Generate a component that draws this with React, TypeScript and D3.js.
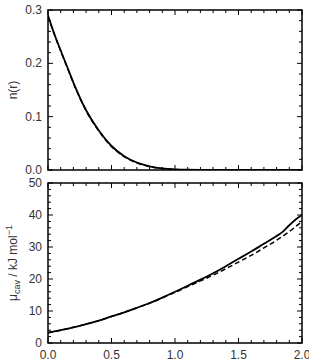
import React from "react";
import * as d3 from "d3";

const rTop = [0, 0.05, 0.1, 0.15, 0.2, 0.3, 0.4, 0.5, 0.6, 0.7, 0.8, 0.9, 1.0, 1.1, 1.2, 1.4, 1.6, 1.8, 2.0];
const nSolid = [0.29, 0.255, 0.224, 0.194, 0.164, 0.112, 0.074, 0.045, 0.026, 0.014, 0.007, 0.003, 0.0012, 0.0005, 0.0002, 0, 0, 0, 0];
const nDashed = [0.288, 0.254, 0.223, 0.193, 0.163, 0.111, 0.073, 0.044, 0.025, 0.013, 0.0065, 0.0028, 0.001, 0.0004, 0.0001, 0, 0, 0, 0];

const rBot = [0, 0.1, 0.2, 0.3, 0.4, 0.5, 0.6, 0.7, 0.8, 0.9, 1.0, 1.1, 1.2, 1.3, 1.4, 1.5, 1.6, 1.7, 1.8, 1.85, 1.9, 1.95, 2.0];
const muSolid = [3.2, 4.0, 4.9, 5.9, 7.0, 8.3, 9.6, 11.0, 12.5, 14.2, 16.0, 17.9, 19.8, 21.8, 24.0, 26.3, 28.6, 31.0, 33.4, 34.8, 36.8, 38.6, 40.0];
const muDashed = [3.2, 4.0, 4.9, 5.9, 7.0, 8.3, 9.6, 11.0, 12.4, 14.1, 15.8, 17.6, 19.4, 21.2, 23.2, 25.3, 27.4, 29.7, 32.1, 33.4, 34.8, 36.4, 38.0];

const xTicks = [0, 0.5, 1.0, 1.5, 2.0];
const nTicks = [0, 0.1, 0.2, 0.3];
const muTicks = [0, 10, 20, 30, 40, 50];

const W = 309, H = 364;
const L = 48, R = 302;
const topY0 = 10, topY1 = 170;
const botY0 = 183, botY1 = 343;
const font = "Liberation Sans, Arial, Helvetica, sans-serif";
const textColor = "#333";

function Panel({ y, yTicks, minorStep, fmt, series, xs, showX }: any) {
  const x = d3.scaleLinear().domain([0, 2]).range([L, R]);
  const [y0, y1] = y.range();
  const yd = y.domain();
  const minorX = d3.range(0, 2.0001, 0.1);
  const minorY = d3.range(yd[0], yd[1] + minorStep / 2, minorStep);
  const isMajorX = (v: number) => Math.abs(v * 2 - Math.round(v * 2)) < 1e-6;
  const isMajorY = (v: number) => yTicks.some((t: number) => Math.abs(t - v) < 1e-6);
  const line = d3.line<number>().x((_, i) => x(xs[i])).y((d) => y(d)).curve(d3.curveMonotoneX);
  return (
    <g>
      <defs>
        <clipPath id={"clip" + y1}>
          <rect x={L} y={y1} width={R - L} height={y0 - y1} />
        </clipPath>
      </defs>
      <g clipPath={`url(#clip${y1})`}>
        <path d={line(series[0]) || ""} fill="none" stroke="#000" strokeWidth={1.8} />
        <path d={line(series[1]) || ""} fill="none" stroke="#000" strokeWidth={1.5} strokeDasharray="5,3" />
      </g>
      {minorX.map((v, i) => {
        const len = isMajorX(v) ? 5 : 3;
        return (
          <g key={"x" + i}>
            <line x1={x(v)} x2={x(v)} y1={y0} y2={y0 - len} stroke="#000" strokeWidth={1} />
            <line x1={x(v)} x2={x(v)} y1={y1} y2={y1 + len} stroke="#000" strokeWidth={1} />
          </g>
        );
      })}
      {minorY.map((v, i) => {
        const len = isMajorY(v) ? 5 : 3;
        return (
          <g key={"y" + i}>
            <line x1={L} x2={L + len} y1={y(v)} y2={y(v)} stroke="#000" strokeWidth={1} />
            <line x1={R} x2={R - len} y1={y(v)} y2={y(v)} stroke="#000" strokeWidth={1} />
          </g>
        );
      })}
      <rect x={L} y={y1} width={R - L} height={y0 - y1} fill="none" stroke="#000" strokeWidth={1.5} />
      {yTicks.map((t: number, i: number) => (
        <text key={"yl" + i} x={L - 6} y={y(t)} dy="0.34em" textAnchor="end" fontSize={12} fontFamily={font} fill={textColor}>
          {fmt(t)}
        </text>
      ))}
      {showX &&
        xTicks.map((t, i) => (
          <text key={"xl" + i} x={x(t)} y={y0 + 16} textAnchor="middle" fontSize={12} fontFamily={font} fill={textColor}>
            {t.toFixed(1)}
          </text>
        ))}
    </g>
  );
}

export default function App() {
  const yTop = d3.scaleLinear().domain([0, 0.3]).range([topY1, topY0]);
  const yBot = d3.scaleLinear().domain([0, 50]).range([botY1, botY0]);
  const topMid = (topY0 + topY1) / 2;
  const botMid = (botY0 + botY1) / 2;
  return (
    <svg width={W} height={H} style={{ position: "absolute", left: 0, top: 0 }}>
      <rect width={W} height={H} fill="#fff" />
      <Panel y={yTop} yTicks={nTicks} minorStep={0.02} fmt={(t: number) => t.toFixed(1)} series={[nSolid, nDashed]} xs={rTop} showX={false} />
      <Panel y={yBot} yTicks={muTicks} minorStep={2} fmt={(t: number) => String(t)} series={[muSolid, muDashed]} xs={rBot} showX={true} />
      <text transform={`translate(17,${topMid}) rotate(-90)`} textAnchor="middle" fontSize={12} fontFamily={font} fill={textColor}>
        n(r)
      </text>
      <text transform={`translate(17,${botMid}) rotate(-90)`} textAnchor="middle" fontSize={12} fontFamily={font} fill={textColor}>
        <tspan>μ</tspan>
        <tspan fontSize={9} dy={3}>cav</tspan>
        <tspan dy={-3}> / kJ mol</tspan>
        <tspan fontSize={9} dy={-5}>−1</tspan>
      </text>
    </svg>
  );
}
